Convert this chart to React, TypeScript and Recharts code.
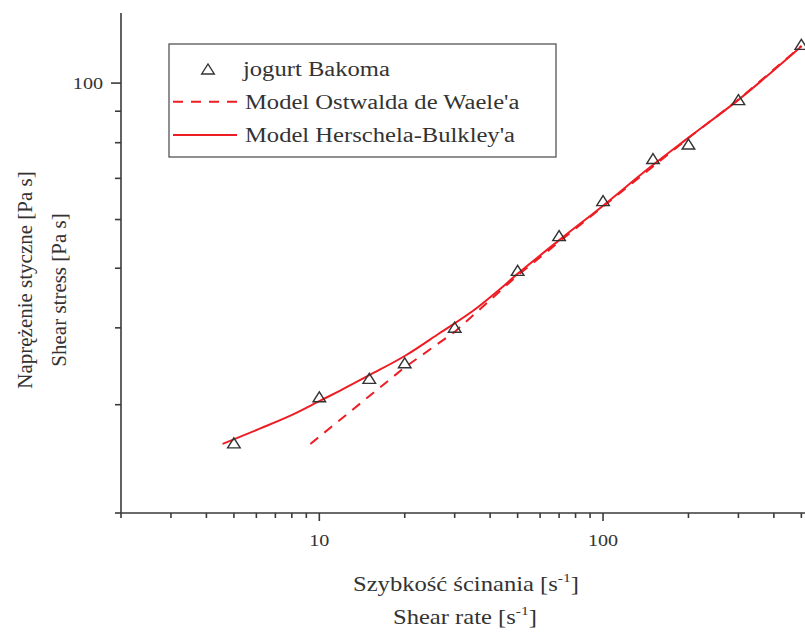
import React from "react";
import { ComposedChart, Line, Scatter, XAxis, YAxis } from "recharts";

// measured points (jogurt Bakoma)
const SHEAR_RATE = [5, 10, 15, 20, 30, 50, 70, 100, 150, 200, 300, 500];
const STRESS = [26.0, 30.9, 33.1, 35.1, 40.1, 49.6, 56.5, 64.4, 75.4, 79.6, 94.0, 115.6];

// Herschel-Bulkley fit
const HB_RATE = [4.56, 6.14, 8.05, 10, 11.8, 15, 20.2, 26.5, 35.7, 42, 50.1, 69.9, 100, 146, 200.7, 300.6, 501.6];
const HB_STRESS = [25.9, 27.4, 28.9, 30.4, 31.6, 33.5, 36.1, 39.2, 43.0, 45.7, 49.0, 55.5, 63.2, 72.9, 81.6, 94.0, 114.9];

// Ostwald de Waele fit
const ODW_RATE = [9.3, 20, 30, 50, 100, 200, 300, 500];
const ODW_STRESS = [25.9, 34.5, 39.4, 48.7, 63.0, 81.4, 94.0, 114.9];

const X_TICKS = [2, 3, 4, 5, 6, 7, 8, 9, 10, 20, 30, 40, 50, 60, 70, 80, 90, 100, 200, 300, 400, 500];
const X_LABELS = [10, 100];
const Y_TICKS = [20, 30, 40, 50, 60, 70, 80, 90, 100];
const Y_LABELS = [100];

const AXIS = "#3a3a3a";
const TEXT = "#333";
const RED = "#ee1d23";
const FONT = '"Liberation Serif", "DejaVu Serif", serif';
const txt: React.CSSProperties = { fontFamily: FONT };

const measured = SHEAR_RATE.map((x, i) => ({ x, y: STRESS[i] }));
const hbCurve = HB_RATE.map((x, i) => ({ x, y: HB_STRESS[i] }));
const odwCurve = ODW_RATE.map((x, i) => ({ x, y: ODW_STRESS[i] }));

const XTick = (props: any) => {
  const { x, y, payload } = props;
  const major = X_LABELS.includes(payload.value);
  return (
    <g>
      <line x1={x} x2={x} y1={y} y2={y + (major ? 8 : 5)} stroke={AXIS} strokeWidth={1.6} />
      {major && (
        <text
          transform={`translate(${x},${y + 33}) scale(1.15,1)`}
          textAnchor="middle"
          style={txt}
          fontSize={17.5}
          fill={TEXT}
        >
          {payload.value}
        </text>
      )}
    </g>
  );
};

const YTick = (props: any) => {
  const { x, y, payload } = props;
  const major = Y_LABELS.includes(payload.value);
  return (
    <g>
      <line x1={x} x2={x - (major ? 10 : 6)} y1={y} y2={y} stroke={AXIS} strokeWidth={1.6} />
      {major && (
        <text
          transform={`translate(${x - 18},${y + 6}) scale(1.15,1)`}
          textAnchor="end"
          style={txt}
          fontSize={17.5}
          fill={TEXT}
        >
          {payload.value}
        </text>
      )}
    </g>
  );
};

const Triangle = (props: any) => {
  const { cx, cy } = props;
  if (cx == null || cy == null) return null;
  return (
    <polygon
      points={`${cx - 6.3},${cy + 5} ${cx + 6.3},${cy + 5} ${cx},${cy - 5}`}
      fill="none"
      stroke={TEXT}
      strokeWidth={1.4}
    />
  );
};

const Overlay = () => (
  <svg
    width={805}
    height={639}
    style={{ position: "absolute", left: 0, top: 0, pointerEvents: "none", fontFamily: FONT }}
    fill={TEXT}
  >
    {/* legend */}
    <rect x={169} y={44} width={387} height={113} fill="none" stroke="#555" strokeWidth={1.3} />
    <polygon points="201.7,74 214.3,74 208,64" fill="none" stroke={TEXT} strokeWidth={1.4} />
    <text transform="translate(243,76) scale(1.23,1)" fontSize={20} style={txt}>jogurt Bakoma</text>
    <line x1={173} x2={237} y1={101.7} y2={101.7} stroke={RED} strokeWidth={2} strokeDasharray="10 8" />
    <text transform="translate(245,108.5) scale(1.23,1)" fontSize={20} style={txt}>Model Ostwalda de Waele'a</text>
    <line x1={173} x2={237} y1={135} y2={135} stroke={RED} strokeWidth={2} />
    <text transform="translate(245,141.7) scale(1.23,1)" fontSize={20} style={txt}>Model Herschela-Bulkley'a</text>

    {/* x titles */}
    <text transform="translate(466,591) scale(1.2,1)" textAnchor="middle" fontSize={20.5} style={txt}>
      Szybkość ścinania [s<tspan dy={-9} fontSize={13}>-1</tspan><tspan dy={9}>]</tspan>
    </text>
    <text transform="translate(465,624) scale(1.2,1)" textAnchor="middle" fontSize={20.5} style={txt}>
      Shear rate [s<tspan dy={-9} fontSize={13}>-1</tspan><tspan dy={9}>]</tspan>
    </text>

    {/* y titles */}
    <text transform="translate(32,280) rotate(-90)" textAnchor="middle" fontSize={21} style={txt}>
      Naprężenie styczne [Pa s]
    </text>
    <text transform="translate(66,290) rotate(-90)" textAnchor="middle" fontSize={21} style={txt}>
      Shear stress [Pa s]
    </text>
  </svg>
);

export default function App() {
  return (
    <div style={{ position: "absolute", left: 0, top: 0, width: 805, height: 639, background: "#fff" }}>
      <ComposedChart width={805} height={639} margin={{ top: 13, right: 0, bottom: 86, left: 0 }}>
        <XAxis
          dataKey="x"
          type="number"
          scale="log"
          domain={[2, 515]}
          allowDataOverflow
          ticks={X_TICKS}
          interval={0}
          tickLine={false}
          tickSize={0}
          tickMargin={0}
          height={40}
          axisLine={{ stroke: AXIS, strokeWidth: 1.6 }}
          tick={<XTick />}
        />
        <YAxis
          dataKey="y"
          type="number"
          scale="log"
          domain={[20, 130]}
          allowDataOverflow
          ticks={Y_TICKS}
          interval={0}
          tickLine={false}
          tickSize={0}
          tickMargin={0}
          width={121}
          axisLine={{ stroke: AXIS, strokeWidth: 1.6 }}
          tick={<YTick />}
        />
        <Scatter data={measured} dataKey="y" shape={<Triangle />} isAnimationActive={false} />
        <Line
          data={odwCurve}
          dataKey="y"
          type="linear"
          stroke={RED}
          strokeWidth={2}
          strokeDasharray="10 8"
          dot={false}
          activeDot={false}
          isAnimationActive={false}
        />
        <Line
          data={hbCurve}
          dataKey="y"
          type="monotone"
          stroke={RED}
          strokeWidth={2}
          dot={false}
          activeDot={false}
          isAnimationActive={false}
        />
      </ComposedChart>
      <Overlay />
    </div>
  );
}
